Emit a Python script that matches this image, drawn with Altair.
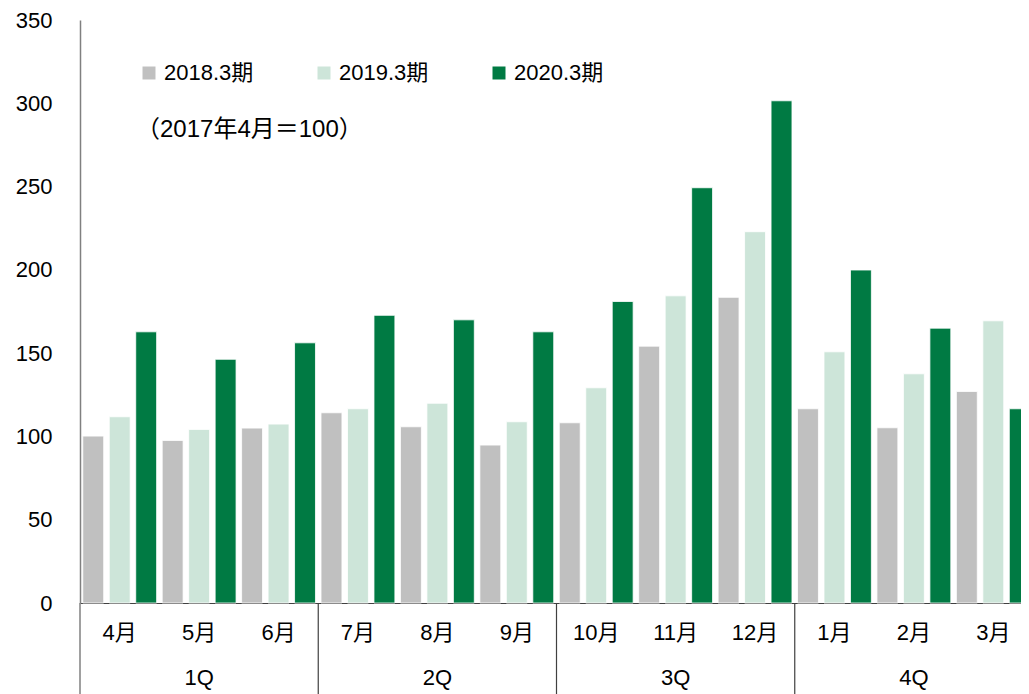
import altair as alt
import pandas as pd

months = ["4月", "5月", "6月", "7月", "8月", "9月", "10月", "11月", "12月", "1月", "2月", "3月"]
quarters = ["1Q", "2Q", "3Q", "4Q"]
quarter_mid = ["5月", "8月", "11月", "2月"]
quarter_start = ["7月", "10月", "1月"]
series = ["2018.3期", "2019.3期", "2020.3期"]
v2018 = [100.2, 97.6, 105.0, 114.2, 105.8, 94.8, 108.2, 154.2, 183.5, 116.6, 105.2, 127.0]
v2019 = [111.8, 104.2, 107.4, 116.6, 119.9, 108.8, 129.2, 184.4, 222.9, 150.8, 137.6, 169.4]
v2020 = [162.8, 146.3, 156.2, 172.7, 170.0, 162.8, 181.0, 249.3, 301.5, 199.9, 165.0, 116.6]
y_ticks = [0, 50, 100, 150, 200, 250, 300, 350]
note = "（2017年4月＝100）"
colors = ["#c0c0c0", "#cde5d9", "#007a43"]

FONT = "Liberation Sans, Arial, Noto Sans CJK JP"
FS = 22

rows = []
for s, vals in zip(series, [v2018, v2019, v2020]):
    for m, v in zip(months, vals):
        rows.append({"month": m, "series": s, "value": v})
df = pd.DataFrame(rows)

xscale = alt.Scale(domain=months, range=[0, 953], paddingInner=0, paddingOuter=0)
xaxis = alt.Axis(title=None, labelAngle=0, ticks=False, labelFontSize=FS,
                 labelFont=FONT, labelColor="#000000", labelPadding=19,
                 domainColor="#404040", domainWidth=1)

bars = alt.Chart(df).mark_bar(stroke="white", strokeWidth=0.8).encode(
    x=alt.X("month:N", sort=months, scale=xscale, axis=xaxis),
    xOffset=alt.XOffset("series:N", sort=series,
                        scale=alt.Scale(domain=series, paddingInner=0.21, paddingOuter=0.105)),
    y=alt.Y("value:Q", scale=alt.Scale(domain=[0, 350], nice=False),
            axis=alt.Axis(title=None, values=y_ticks, grid=False, ticks=False,
                          labelFontSize=FS, labelFont=FONT, labelColor="#000000",
                          labelPadding=28, domainColor="#808080", domainWidth=1.5)),
    color=alt.Color("series:N", sort=series,
                    scale=alt.Scale(domain=series, range=colors),
                    legend=alt.Legend(title=None, orient="none", legendX=58, legendY=42,
                                      direction="horizontal", symbolType="square",
                                      symbolSize=169, symbolStrokeWidth=0,
                                      labelFontSize=FS, labelFont=FONT, labelColor="#000000",
                                      labelOffset=4, columnPadding=59, padding=0)),
)

qdf = pd.DataFrame({"month": quarter_mid, "q": quarters})
qlabels = alt.Chart(qdf).mark_text(fontSize=FS, font=FONT, color="#000000", baseline="middle").encode(
    x=alt.X("month:N", sort=months, scale=xscale, axis=xaxis),
    y=alt.value(658),
    text="q:N",
)

sdf = pd.DataFrame({"month": quarter_start})
seps = alt.Chart(sdf).mark_rule(color="#404040", strokeWidth=1.2).encode(
    x=alt.X("month:N", sort=months, scale=xscale, axis=xaxis, bandPosition=0),
    y=alt.value(583),
    y2=alt.value(720),
)
ldf = pd.DataFrame({"month": [months[0]]})
left_sep = alt.Chart(ldf).mark_rule(color="#808080", strokeWidth=1.5).encode(
    x=alt.X("month:N", sort=months, scale=xscale, axis=xaxis, bandPosition=0),
    y=alt.value(583),
    y2=alt.value(720),
)

ndf = pd.DataFrame({"t": [note]})
note_text = alt.Chart(ndf).mark_text(fontSize=24, font=FONT, color="#000000",
                                     align="left", baseline="middle").encode(
    x=alt.value(56), y=alt.value(110), text="t:N")

chart = alt.layer(bars, qlabels, seps, left_sep, note_text).properties(
    width=941, height=583,
    autosize=alt.AutoSizeParams(type="none"),
    padding={"left": 72, "top": 12, "right": 0, "bottom": 91},
).configure_view(stroke=None)

chart.save("out.html", embed_options={"renderer": "svg", "actions": False})
